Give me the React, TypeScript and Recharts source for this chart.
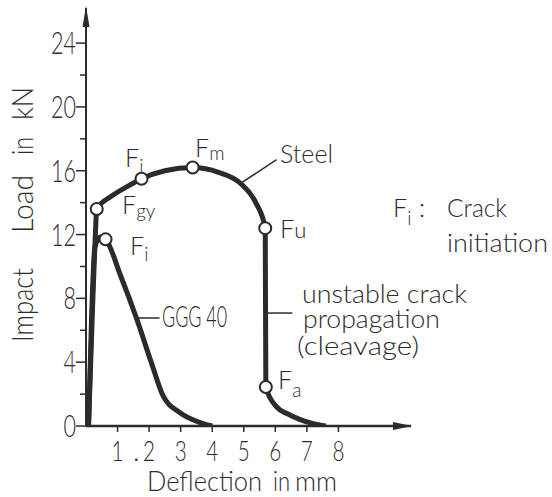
import React from 'react';
import { ComposedChart, Line, Scatter, XAxis, YAxis, ReferenceLine } from 'recharts';

// steel curve (deflection mm, load kN)
const steelX = [0.08, 0.2, 0.3, 0.34, 0.8, 1.3, 1.76, 2.5, 3.38, 4.2, 4.9, 5.38, 5.68, 5.7, 6.04, 6.4, 6.77, 7.2, 7.6];
const steelY = [0, 7, 12.2, 13.6, 14.4, 15.0, 15.5, 16.0, 16.2, 15.9, 15.2, 14.0, 12.4, 2.44, 1.2, 0.75, 0.42, 0.15, 0];

// GGG 40 curve
const gggX = [0.08, 0.18, 0.28, 0.45, 0.62, 1.1, 1.61, 2.1, 2.44, 2.97, 3.5, 4.0];
const gggY = [0, 7, 11.2, 11.85, 11.7, 9.4, 6.7, 3.8, 1.9, 0.85, 0.3, 0];

// marked points: Fgy, Fi, Fm, Fu, Fa (steel) and Fi (GGG 40)
const markX = [0.34, 1.76, 3.38, 5.68, 5.7, 0.62];
const markY = [13.6, 15.5, 16.2, 12.4, 2.44, 11.7];

const xTicks = [1, 2, 3, 4, 5, 6, 7, 8];
const yTicks = [0, 2, 4, 6, 8, 10, 12, 14, 16, 18, 20, 22, 24];

const steel = steelX.map((x, i) => ({ x, y: steelY[i] }));
const ggg = gggX.map((x, i) => ({ x, y: gggY[i] }));
const marks = markX.map((x, i) => ({ x, y: markY[i] }));

const INK = '#2b2b2b';
const FONT = 'Lato, "DejaVu Sans Condensed", sans-serif';
const WEIGHT = 300;

const YTick = (props: any) => {
  const { x, y, payload } = props;
  const v = payload.value;
  const major = v % 4 === 0;
  const label = String(v);
  return (
    <g>
      <line x1={x - (major ? 10 : 6)} x2={x} y1={y} y2={y} stroke={INK} strokeWidth={1.5} />
      {major && (
        <text
          x={x - 10}
          y={y + 11}
          textAnchor="end"
          fontSize={31}
          fontWeight={WEIGHT}
          fontFamily={FONT}
          fill={INK}
          textLength={label.length * 12.5}
          lengthAdjust="spacingAndGlyphs"
        >
          {label}
        </text>
      )}
    </g>
  );
};

const XTick = (props: any) => {
  const { x, y, payload } = props;
  return (
    <g>
      <line x1={x} x2={x} y1={y} y2={y + 6} stroke={INK} strokeWidth={1.5} />
      <text
        x={x - 6}
        y={y + 35}
        fontSize={28}
        fontWeight={WEIGHT}
        fontFamily={FONT}
        fill={INK}
        textLength={12}
        lengthAdjust="spacingAndGlyphs"
      >
        {payload.value}
      </text>
    </g>
  );
};

const Marker = (props: any) => (
  <circle cx={props.cx} cy={props.cy} r={6} fill="#fff" stroke={INK} strokeWidth={2} />
);

const T = (p: any) => <text fontFamily={FONT} fontWeight={WEIGHT} fill={INK} fontSize={25} lengthAdjust="spacingAndGlyphs" {...p} />;

const F = ({ x, y, sub, dy = 6 }: { x: number; y: number; sub: string; dy?: number }) => (
  <text x={x} y={y} fontFamily={FONT} fontWeight={WEIGHT} fill={INK} fontSize={25}>
    F<tspan dy={dy} fontSize={19}>{sub}</tspan>
  </text>
);

export default function App() {
  return (
    <div style={{ position: 'absolute', left: 0, top: 0, width: 552, height: 497, background: '#fff' }}>
      <ComposedChart width={552} height={497} margin={{ top: 8, right: 141, left: 26, bottom: 31 }}>
        <XAxis
          type="number"
          dataKey="x"
          domain={[0, 10.3]}
          ticks={xTicks}
          interval={0}
          height={40}
          tickLine={false}
          tickSize={0}
          tickMargin={0}
          tick={<XTick />}
          axisLine={{ stroke: INK, strokeWidth: 2.5 }}
          allowDataOverflow
        />
        <YAxis
          type="number"
          dataKey="y"
          domain={[0, 26.2]}
          ticks={yTicks}
          interval={0}
          width={60}
          tickLine={false}
          tickSize={0}
          tickMargin={0}
          tick={<YTick />}
          axisLine={{ stroke: INK, strokeWidth: 2 }}
          allowDataOverflow
        />
        <ReferenceLine segment={[{ x: 4.9, y: 15.2 }, { x: 6.04, y: 16.7 }]} stroke={INK} strokeWidth={1.5} ifOverflow="visible" />
        <ReferenceLine segment={[{ x: 1.6, y: 6.77 }, { x: 2.33, y: 6.77 }]} stroke={INK} strokeWidth={1.5} ifOverflow="visible" />
        <ReferenceLine segment={[{ x: 5.72, y: 7.08 }, { x: 6.54, y: 7.08 }]} stroke={INK} strokeWidth={1.5} ifOverflow="visible" />
        <Line data={ggg} dataKey="y" type="monotone" stroke={INK} strokeWidth={5} dot={false} isAnimationActive={false} />
        <Line data={steel} dataKey="y" type="monotone" stroke={INK} strokeWidth={5} dot={false} isAnimationActive={false} />
        <Scatter data={marks} dataKey="y" shape={<Marker />} isAnimationActive={false} />
      </ComposedChart>
      <svg width={552} height={497} style={{ position: 'absolute', left: 0, top: 0, pointerEvents: 'none' }}>
        <polygon points="86,6 82.5,27 89.5,27" fill={INK} />
        <polygon points="412,426 393,422 393,430" fill={INK} />
        <T x={133} y={461} fontSize={28}>.</T>
        <g transform="rotate(-90 33 342)">
          <T x={33} y={342} fontSize={29} textLength={74}>Impact</T>
          <T x={142} y={342} fontSize={29} textLength={58}>Load</T>
          <T x={220} y={342} fontSize={29} textLength={18}>in</T>
          <T x={255} y={342} fontSize={29} textLength={33}>kN</T>
        </g>
        <T x={147} y={491} fontSize={28} textLength={115}>Deflection</T>
        <T x={273} y={491} fontSize={28} textLength={17}>in</T>
        <T x={295} y={491} fontSize={28} textLength={42}>mm</T>
        <F x={125} y={167} sub="i" />
        <F x={195} y={157} sub="m" dy={3} />
        <F x={122} y={214} sub="gy" dy={4} />
        <F x={130} y={255} sub="i" />
        <text x={280} y={238} fontFamily={FONT} fontWeight={WEIGHT} fill={INK} fontSize={25}>F<tspan fontSize={22}>u</tspan></text>
        <F x={278} y={389} sub="a" dy={8} />
        <T x={280} y={163} textLength={53}>Steel</T>
        <T x={162} y={327} fontSize={30} textLength={65}>GGG 40</T>
        <T x={302} y={303} fontSize={26} textLength={165}>unstable crack</T>
        <T x={303} y={328} fontSize={26} textLength={137}>propagation</T>
        <T x={297} y={355} fontSize={26} textLength={122}>(cleavage)</T>
        <F x={393} y={217} sub="i" dy={8} />
        <T x={419} y={217}>:</T>
        <T x={447} y={217} textLength={60}>Crack</T>
        <T x={447} y={252} textLength={101}>initiation</T>
      </svg>
    </div>
  );
}
